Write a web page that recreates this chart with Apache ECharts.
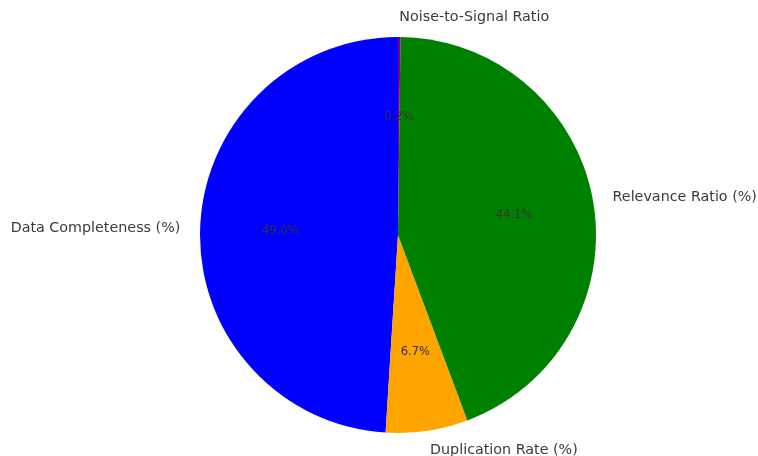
<!DOCTYPE html>
<html>
<head>
<meta charset="utf-8">
<script src="https://cdn.jsdelivr.net/npm/echarts@6/dist/echarts.min.js"></script>
<style>
  html, body { margin: 0; padding: 0; background: #fff; }
  #chart { width: 758px; height: 456px; }
</style>
</head>
<body>
<div id="chart"></div>
<script>
// slice names, values (percent) and colours
const categories = ['Data Completeness (%)', 'Duplication Rate (%)', 'Relevance Ratio (%)', 'Noise-to-Signal Ratio'];
const values = [49.0, 6.7, 44.1, 0.2];
const colors = ['#0000ff', '#ffa500', '#008000', '#800080'];

const R = 198;  // pie radius in px

let pieData = categories.map((name, i) => ({
    name: name,
    value: values[i],
    itemStyle: { color: colors[i] }
}));

let option = {
    backgroundColor: '#ffffff',
    animation: false,
    series: [
        {
            // the slices + outer name labels
            type: 'pie',
            center: [398, 235],
            radius: R,
            startAngle: 90,
            clockwise: false,
            avoidLabelOverlap: false,
            silent: true,
            itemStyle: { borderWidth: 0 },
            label: {
                show: true,
                position: 'outside',
                formatter: '{b}',
                fontFamily: 'DejaVu Sans',
                fontSize: 14.3,
                color: '#3a3a3a',
                distanceToLabelLine: 0
            },
            labelLine: { show: false, length: R * 0.1, length2: 0 },
            data: pieData
        },
        {
            // invisible ring used only to put the percentages at ~0.6 R
            type: 'pie',
            center: [398, 235],
            radius: [R * 0.2 - 8, R],
            startAngle: 90,
            clockwise: false,
            avoidLabelOverlap: false,
            silent: true,
            itemStyle: { color: 'transparent', borderWidth: 0 },
            label: {
                show: true,
                position: 'inside',
                formatter: (p) => p.percent.toFixed(1) + '%',
                fontFamily: 'DejaVu Sans',
                fontSize: 11.5,
                color: '#333333'
            },
            labelLine: { show: false },
            data: categories.map((name, i) => ({ name: name, value: values[i] }))
        }
    ]
};

let chart = echarts.init(document.getElementById('chart'));
chart.setOption(option);
</script>
</body>
</html>
